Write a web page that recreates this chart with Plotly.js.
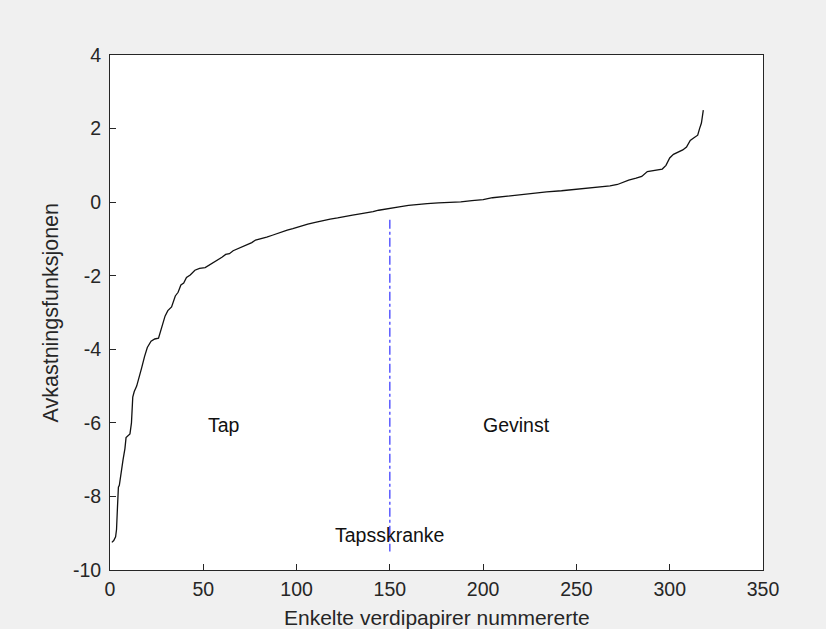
<!DOCTYPE html>
<html>
<head>
<meta charset="utf-8">
<script src="https://cdn.plot.ly/plotly-3.0.1.min.js"></script>
<style>html,body{margin:0;padding:0;background:#f0f0f0;}#chart{width:826px;height:629px;}</style>
</head>
<body>
<div id="chart"></div>
<script>
// Sorted return values per security
const securityIndex = [1,2,3,3.5,4,4.5,5,6,6.5,7,8,8.6,10.7,11.5,12.2,13,14.3,15.5,17,18.5,20,22,24,26,28,29.5,31,33,35,36.5,38,39.5,41,43,45.5,48,51,53,56,58,60,62,64,66,68,70,73,76,78,81,84,87,91,95,98,102,106,110,114,118,122,126,130,134,138,141,144,147,150,155,160,165,170,176,182,188,194,200,205,212,220,227,234,242,250,256,262,268,272,275,278,282,285,288,292,296,298,300,302,305,307,309,311,313,315,316,317,318];
const returnValue = [-9.25,-9.2,-9.1,-8.9,-8.3,-7.75,-7.7,-7.3,-7.1,-7.0,-6.7,-6.4,-6.3,-6.0,-5.3,-5.15,-5.0,-4.8,-4.5,-4.2,-3.95,-3.78,-3.72,-3.7,-3.35,-3.1,-2.95,-2.85,-2.55,-2.45,-2.25,-2.2,-2.05,-1.98,-1.85,-1.8,-1.78,-1.72,-1.62,-1.55,-1.5,-1.42,-1.4,-1.32,-1.28,-1.22,-1.18,-1.1,-1.03,-1.0,-0.95,-0.9,-0.82,-0.76,-0.72,-0.65,-0.6,-0.55,-0.5,-0.46,-0.43,-0.38,-0.35,-0.32,-0.29,-0.26,-0.22,-0.19,-0.16,-0.13,-0.09,-0.06,-0.04,-0.02,-0.01,0.01,0.04,0.07,0.12,0.16,0.21,0.25,0.28,0.31,0.35,0.37,0.4,0.44,0.48,0.55,0.6,0.65,0.7,0.83,0.86,0.9,1.0,1.2,1.3,1.36,1.42,1.5,1.68,1.75,1.82,2.0,2.15,2.5];

// Loss threshold line
const thresholdX = [150, 150];
const thresholdY = [-0.48, -9.5];

// Text labels
const labelText = ["Tap", "Gevinst", "Tapsskranke"];
const labelX = [61, 218, 150];
const labelY = [-6.05, -6.05, -9.05];

// Tick labels
const xTicks = [0,50,100,150,200,250,300,350];
const yTicks = [-10,-8,-6,-4,-2,0,2,4];
const yTickText = ["-10","-8","-6","-4","-2","0","2","4"];

const FONT = "Liberation Sans, Arial, Helvetica, sans-serif";
const AXC = "#262626";

const traces = [
  {x: securityIndex, y: returnValue, type: "scatter", mode: "lines",
   line: {color: "#111111", width: 1.3}, hoverinfo: "skip"},
  {x: thresholdX, y: thresholdY, type: "scatter", mode: "lines",
   line: {color: "#1f1fff", width: 1.1, dash: "dashdot"}, hoverinfo: "skip"}
];

const annotations = labelText.map((t, i) => ({
  x: labelX[i], y: labelY[i], xref: "x", yref: "y", text: t, showarrow: false,
  font: {family: FONT, size: 19.5, color: "#111111"}, xanchor: "center", yanchor: "middle"
}));
annotations.push({
  x: 0.5, y: 0, xref: "paper", yref: "paper", yshift: -47, text: "Enkelte verdipapirer nummererte",
  showarrow: false, font: {family: FONT, size: 21, color: AXC}, xanchor: "center", yanchor: "middle"
});
annotations.push({
  x: 0, y: 0.5, xref: "paper", yref: "paper", xshift: -60, text: "Avkastningsfunksjonen",
  textangle: -90, showarrow: false, font: {family: FONT, size: 21.5, color: AXC}, xanchor: "center", yanchor: "middle"
});

const axisCommon = {
  showgrid: false, zeroline: false, showline: true, linecolor: AXC, linewidth: 1,
  mirror: true, ticks: "inside", ticklen: 6, tickcolor: AXC, tickwidth: 1,
  tickfont: {family: FONT, size: 19.5, color: AXC}
};

const layout = {
  width: 826, height: 629,
  paper_bgcolor: "#f0f0f0", plot_bgcolor: "#ffffff",
  margin: {l: 110, r: 63, t: 55, b: 59, pad: 0},
  showlegend: false,
  xaxis: Object.assign({}, axisCommon, {range: [0, 350], tickvals: xTicks, ticktext: xTicks.map(String), ticklabelstandoff: 2}),
  yaxis: Object.assign({}, axisCommon, {range: [-10, 4], tickvals: yTicks, ticktext: yTickText, ticklabelstandoff: 4}),
  annotations: annotations
};

Plotly.newPlot("chart", traces, layout, {displayModeBar: false, staticPlot: true});
</script>
</body>
</html>
